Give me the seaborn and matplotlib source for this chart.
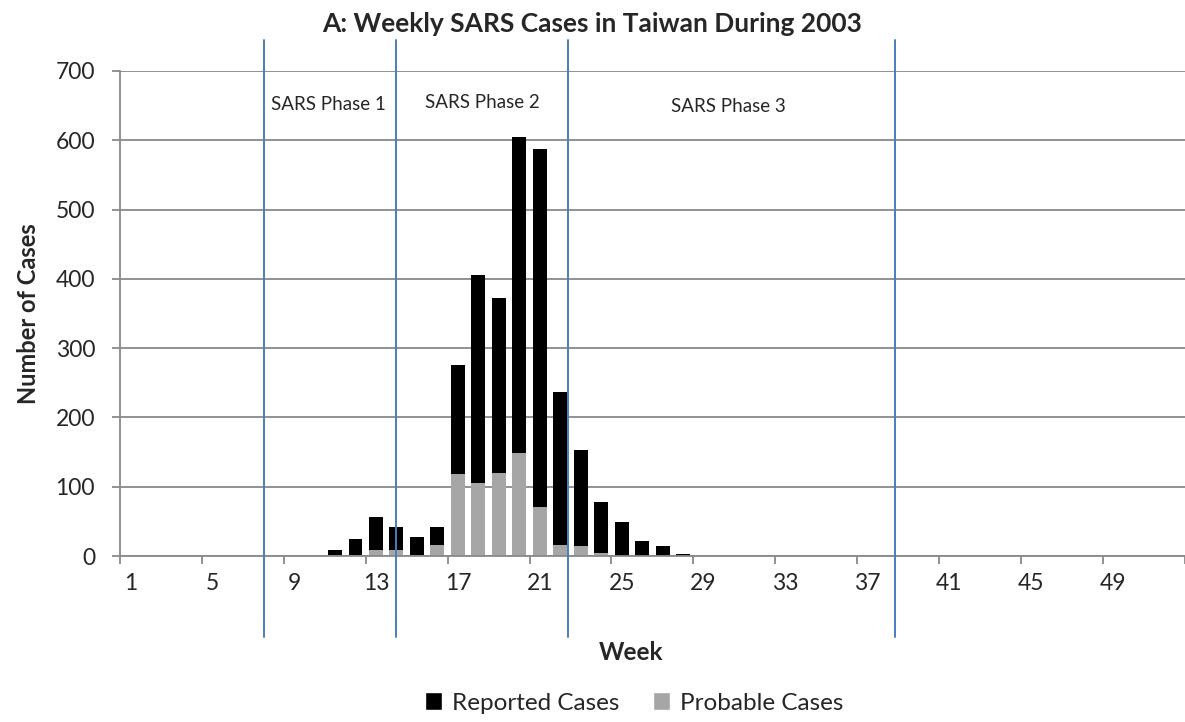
#!/usr/bin/env python3
# -*- coding: utf-8 -*-
"""
Weekly SARS cases in Taiwan (2003): reported vs probable, stacked bars with phase markers
"""

import pandas as pd
import matplotlib.pyplot as plt
from matplotlib.patches import Patch
import seaborn as sns

sns.set_style('white')
plt.rcParams['font.family'] = ['Lato', 'DejaVu Sans']

# data
WEEKS = list(range(1, 53))
REPORTED = [0, 0, 0, 0, 0, 0, 0, 0, 0, 0,
            8, 24, 56, 42, 28, 42, 275, 406, 373, 605,
            587, 236, 153, 78, 49, 21, 15, 3, 2, 2,
            0, 0, 0, 0, 0, 0, 0, 0, 0, 0,
            0, 0, 0, 0, 0, 0, 0, 0, 0, 0,
            0, 0]
PROBABLE = [0, 0, 0, 0, 0, 0, 0, 0, 0, 0,
            2, 2, 8, 9, 2, 16, 119, 105, 120, 149,
            71, 16, 15, 5, 0, 0, 0, 0, 1, 1,
            0, 0, 0, 0, 0, 0, 0, 0, 0, 0,
            0, 0, 0, 0, 0, 0, 0, 0, 0, 0,
            0, 0]
TICK_WEEKS = list(range(1, 53, 4))
PHASE_LABELS = ['SARS Phase 1', 'SARS Phase 2', 'SARS Phase 3']

GRID_COLOR = '#898989'
LINE_BLUE = '#4a7ebb'
GRAY_BAR = '#a6a6a6'


def plot_weekly_cases(df):
    fig = plt.figure(figsize=(11.85, 7.22), dpi=100)
    ax = fig.add_axes([0.1013, 0.2299, 0.8985, 0.6718])

    order = [str(w) for w in WEEKS]
    sns.barplot(data=df, x='Week', y='Reported', order=order, color='black',
                width=0.68, linewidth=0, saturation=1, ax=ax)
    sns.barplot(data=df, x='Week', y='Probable', order=order, color=GRAY_BAR,
                width=0.68, linewidth=0, saturation=1, ax=ax)

    ax.set_xlim(-0.5, len(WEEKS) - 0.5)
    ax.set_ylim(0, 700)
    ax.set_yticks(range(0, 701, 100))

    # tick labels centred on weeks, tick marks on category borders
    ax.set_xticks([w - 1 for w in TICK_WEEKS])
    ax.set_xticklabels([str(w) for w in TICK_WEEKS])
    ax.set_xticks([i - 0.5 for i in range(0, len(WEEKS) + 1, 4)], minor=True)
    ax.tick_params(axis='x', which='major', length=0, pad=12, labelsize=16.5)
    ax.tick_params(axis='x', which='minor', length=6, width=1.3,
                   color=GRID_COLOR, direction='out', bottom=True)
    ax.tick_params(axis='y', length=6, width=1.3, color=GRID_COLOR,
                   direction='out', left=True, pad=12, labelsize=16.5)

    ax.grid(axis='y', color=GRID_COLOR, linewidth=1.3)
    ax.set_axisbelow(True)
    for side in ['top', 'right']:
        ax.spines[side].set_visible(False)
    for side in ['left', 'bottom']:
        ax.spines[side].set_color(GRID_COLOR)
        ax.spines[side].set_linewidth(1.3)

    ax.set_xlabel('Week', fontsize=17.5, fontweight='bold')
    ax.xaxis.set_label_coords(0.48, -0.198)
    ax.xaxis.label.set_va('center')
    ax.set_ylabel('Number of Cases', fontsize=17, fontweight='bold')
    ax.yaxis.set_label_coords(-0.086, 0.5)
    ax.yaxis.label.set_va('center')

    # phase boundaries (drawn past the plot area like in the original)
    for xpos in [6.52, 12.96, 21.39, 37.33]:
        ax.axvline(xpos, ymin=-0.167, ymax=1.064, color=LINE_BLUE,
                   linewidth=1.4, clip_on=False, zorder=5)

    for (xpos, ypos), label in zip([(9.7, 652), (17.21, 654), (29.2, 649)], PHASE_LABELS):
        ax.text(xpos, ypos, label, ha='center', va='center', fontsize=13.5)

    fig.text(0.4996, 1 - 24 / 722, 'A: Weekly SARS Cases in Taiwan During 2003',
             ha='center', va='center', fontsize=19, fontweight='bold')

    handles = [Patch(facecolor='black'), Patch(facecolor=GRAY_BAR)]
    fig.legend(handles, ['Reported Cases', 'Probable Cases'], loc='center',
               bbox_to_anchor=(0.535, 1 - 703 / 722), ncol=2, frameon=False,
               fontsize=17.5, handlelength=0.7, handleheight=0.7,
               handletextpad=0.4, columnspacing=1.4)

    fig.savefig('out.png', dpi=100)
    plt.close(fig)


def main():
    df = pd.DataFrame({
        'Week': [str(w) for w in WEEKS],
        'Reported': REPORTED,
        'Probable': PROBABLE,
    })
    plot_weekly_cases(df)


if __name__ == '__main__':
    main()
